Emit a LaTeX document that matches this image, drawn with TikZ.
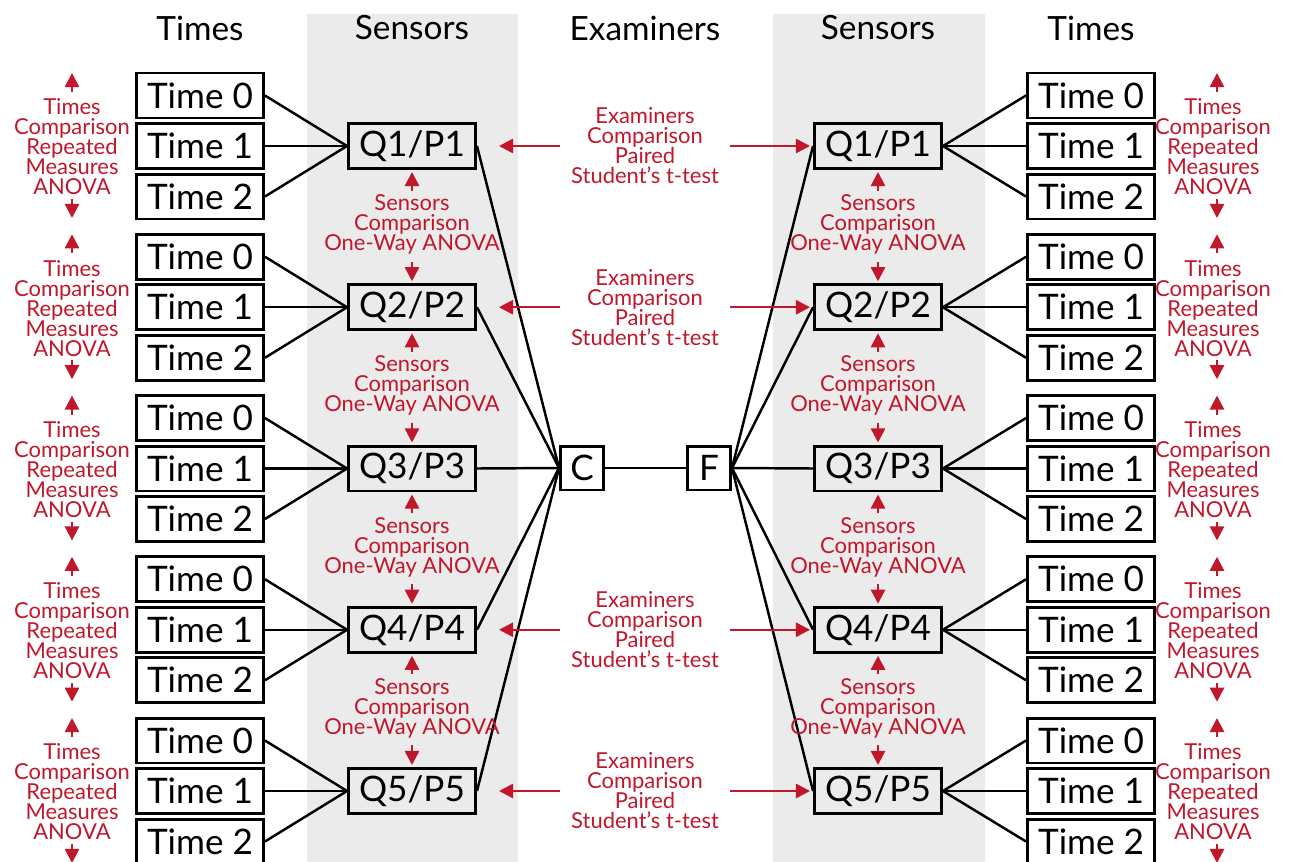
\documentclass[tikz,border=0pt]{standalone}
\usepackage{fontspec}
\setmainfont{Lato}
\usetikzlibrary{arrows.meta}
\definecolor{statred}{HTML}{C1172B}
\definecolor{colgray}{HTML}{EBEBEB}

\begin{document}
\begin{tikzpicture} [x=0.02cm, y=-0.02cm,
  tbox/.style={draw=black, line width=1.7pt, fill=white, minimum width=2.54cm, minimum height=0.9cm, inner sep=0pt, font=\fontsize{20}{22}\selectfont},
  qbox/.style={tbox, fill=colgray},
  cfbox/.style={tbox, minimum width=0.86cm, minimum height=0.88cm},
  link/.style={black, line width=1.4pt},
  head/.style={font=\fontsize{19}{21}\selectfont},
  stat/.style={text=statred, align=center, inner sep=0pt, font=\fontsize{12.5}{11.4}\selectfont},
  statarrow/.style={statred, line width=1.4pt, -{Triangle[length=8pt,width=8pt]}}]
% shaded sensor columns
\useasboundingbox (0,0) rectangle (1295,862);
\fill[colgray] (307,14) rectangle (518,862);
\fill[colgray] (773,14) rectangle (985,862);
% headers
\node[head] (hTL) at (200,28) {Times};
\node[head] (hSL) at (412,28) {Sensors};
\node[head] (hE) at (645,28) {Examiners};
\node[head] (hSR) at (878,28) {Sensors};
\node[head] (hTR) at (1091,28) {Times};
% examiners
\node[cfbox] (C) at (582,468) {C};
\node[cfbox] (F) at (709,468) {F};
\draw[link] (C) -- (F);
\foreach \i in {1,...,5} {
 \pgfmathsetmacro\yq{146+161.25*(\i-1)}
 \node[qbox] (QL\i) at (412,\yq) {Q\i/P\i};
 \node[qbox] (QR\i) at (878,\yq) {Q\i/P\i};
 \draw[link] (QL\i.east) -- (C.west);
 \draw[link] (F.east) -- (QR\i.west);
 \foreach \t in {0,1,2} {
  \node[tbox] (TL\i\t) at (200,{\yq+50.5*(\t-1)}) {Time \t};
  \node[tbox] (TR\i\t) at (1091,{\yq+50.5*(\t-1)}) {Time \t};
  \draw[link] (TL\i\t.east) -- (QL\i.west);
  \draw[link] (QR\i.east) -- (TR\i\t.west);
 }
 % times comparison
 \node[stat] (TCL\i) at (72,{\yq+1}) {Times\\Comparison\\Repeated\\Measures\\ANOVA};
 \node[stat] (TCR\i) at (1213,{\yq+1}) {Times\\Comparison\\Repeated\\Measures\\ANOVA};
 \draw[statarrow] (72,{\yq-54}) -- (72,{\yq-73});
 \draw[statarrow] (72,{\yq+53}) -- (72,{\yq+72});
 \draw[statarrow] (1217,{\yq-54}) -- (1217,{\yq-73});
 \draw[statarrow] (1217,{\yq+53}) -- (1217,{\yq+72});
}
% sensors comparison
\foreach \i/\j in {1/2,2/3,3/4,4/5} {
 \pgfmathsetmacro\ym{226.5+161.25*(\i-1)}
 \node[stat] (SCL\i) at (412,{\ym-2}) {Sensors\\Comparison\\One-Way ANOVA};
 \node[stat] (SCR\i) at (878,{\ym-2}) {Sensors\\Comparison\\One-Way ANOVA};
 \draw[statarrow] (412,{\ym-36}) -- ([yshift=-0.04cm]QL\i.south);
 \draw[statarrow] (412,{\ym+35}) -- ([yshift=0.04cm]QL\j.north);
 \draw[statarrow] (878,{\ym-36}) -- ([yshift=-0.04cm]QR\i.south);
 \draw[statarrow] (878,{\ym+35}) -- ([yshift=0.04cm]QR\j.north);
}
% examiners comparison
\foreach \i in {1,2,4,5} {
 \pgfmathsetmacro\yq{146+161.25*(\i-1)}
 \node[stat] (EC\i) at (645,\yq) {Examiners\\Comparison\\Paired\\Student's t-test};
 \draw[statarrow] (560,\yq) -- ([xshift=0.44cm]QL\i.east);
 \draw[statarrow] (730,\yq) -- ([xshift=-0.06cm]QR\i.west);
}
\end{tikzpicture}
\end{document}
